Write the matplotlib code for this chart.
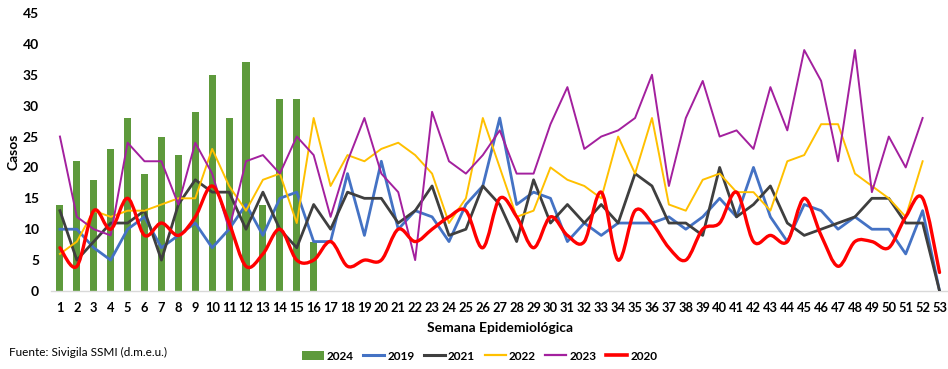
import matplotlib
matplotlib.use("Agg")
import matplotlib.pyplot as plt
from matplotlib.path import Path
from matplotlib.patches import PathPatch
from matplotlib.lines import Line2D
from matplotlib.patches import Patch
import numpy as np

plt.rcParams["font.family"] = ["Lato", "DejaVu Sans"]

weeks = list(range(1, 54))

cases_2024 = [14, 21, 18, 23, 28, 19, 25, 22, 29, 35, 28, 37, 14, 31, 31, 8]

cases_2019 = [10, 10, 7, 5, 10, 12, 7, 9, 11, 7, 10, 14, 9, 15, 16, 8, 8, 19, 9, 21,
              10, 13, 12, 8, 14, 17, 28, 14, 16, 15, 8, 11, 9, 11, 11, 11, 12, 10, 12, 15,
              12, 20, 12, 8, 14, 13, 10, 12, 10, 10, 6, 13, 0]
cases_2021 = [13, 5, 8, 11, 11, 13, 5, 14, 18, 16, 16, 10, 16, 10, 7, 14, 10, 16, 15, 15,
              11, 13, 17, 9, 10, 17, 14, 8, 18, 11, 14, 11, 14, 11, 19, 17, 11, 11, 9, 20,
              12, 14, 17, 11, 9, 10, 11, 12, 15, 15, 11, 11, 0]
cases_2022 = [6, 8, 13, 12, 13, 13, 14, 15, 15, 23, 17, 13, 18, 19, 11, 28, 17, 22, 21, 23,
              24, 22, 19, 11, 15, 28, 20, 12, 13, 20, 18, 17, 15, 25, 19, 28, 14, 13, 18, 19,
              16, 16, 13, 21, 22, 27, 27, 19, 17, 15, 12, 21]
cases_2023 = [25, 12, 10, 9, 24, 21, 21, 14, 24, 19, 10, 21, 22, 19, 25, 22, 12, 21, 28, 19,
              16, 5, 29, 21, 19, 22, 26, 19, 19, 27, 33, 23, 25, 26, 28, 35, 17, 28, 34, 25,
              26, 23, 33, 26, 39, 34, 21, 39, 16, 25, 20, 28]
cases_2020 = [7, 4, 13, 10, 15, 9, 11, 9, 12, 17, 11, 4, 6, 10, 5, 5, 8, 4, 5, 5,
              10, 8, 10, 12, 13, 7, 15, 12, 7, 12, 9, 8, 16, 5, 13, 11, 7, 5, 10, 11,
              16, 8, 9, 8, 15, 9, 4, 8, 8, 7, 12, 15, 3]

GREEN = "#5E9A3C"
BLUE = "#4472C4"
DARK = "#3F3F3F"
YELLOW = "#FFC000"
PURPLE = "#A3209E"
RED = "#FF0000"


def smooth_path(x, y):
    """Bezier path through the points, Catmull-Rom style tangents."""
    pts = np.column_stack([x, y]).astype(float)
    n = len(pts)
    verts = [pts[0]]
    codes = [Path.MOVETO]
    for i in range(n - 1):
        p0 = pts[max(i - 1, 0)]
        p1 = pts[i]
        p2 = pts[i + 1]
        p3 = pts[min(i + 2, n - 1)]
        c1 = p1 + (p2 - p0) / 6.0
        c2 = p2 - (p3 - p1) / 6.0
        verts += [c1, c2, p2]
        codes += [Path.CURVE4] * 3
    return Path(verts, codes)


fig = plt.figure(figsize=(9.48, 3.69), dpi=100)
ax = fig.add_axes([0.0543, 0.2114, 0.9457, 0.7534])

ax.bar(weeks[:len(cases_2024)], cases_2024, width=0.42, color=GREEN, zorder=1)
ax.plot(weeks[:len(cases_2019)], cases_2019, color=BLUE, lw=2.0, zorder=2)
ax.plot(weeks[:len(cases_2021)], cases_2021, color=DARK, lw=2.0, zorder=3)
ax.plot(weeks[:len(cases_2022)], cases_2022, color=YELLOW, lw=1.4, zorder=4)
ax.plot(weeks[:len(cases_2023)], cases_2023, color=PURPLE, lw=1.4, zorder=5)
ax.add_patch(PathPatch(smooth_path(weeks[:len(cases_2020)], cases_2020),
                       facecolor="none", edgecolor=RED, lw=2.4, zorder=6,
                       capstyle="round", joinstyle="round"))

ax.set_xlim(0.5, 53.5)
ax.set_ylim(0, 45)
ax.set_yticks(range(0, 46, 5))
ax.set_xticks(weeks)
ax.tick_params(length=0)
ax.tick_params(axis="x", labelsize=9.3, pad=8)
ax.tick_params(axis="y", labelsize=10, pad=9)
for lbl in ax.get_xticklabels() + ax.get_yticklabels():
    lbl.set_fontweight("bold")

for side in ["top", "right", "left"]:
    ax.spines[side].set_visible(False)
ax.spines["bottom"].set_color("#D9D9D9")
ax.spines["bottom"].set_linewidth(1.0)

ax.set_ylabel("Casos", fontsize=10, fontweight="bold", labelpad=2)
ax.set_xlabel("Semana Epidemiológica", fontsize=10, fontweight="bold", labelpad=6)

fig.text(0.01, 0.045, "Fuente: Sivigila SSMI (d.m.e.u.)", fontsize=8.5,
         va="center", ha="left")

handles = [
    Patch(facecolor=GREEN, label="2024"),
    Line2D([], [], color=BLUE, lw=2.2, label="2019"),
    Line2D([], [], color=DARK, lw=2.2, label="2021"),
    Line2D([], [], color=YELLOW, lw=1.6, label="2022"),
    Line2D([], [], color=PURPLE, lw=1.6, label="2023"),
    Line2D([], [], color=RED, lw=2.6, label="2020"),
]
fig.legend(handles=handles, loc="center", bbox_to_anchor=(0.506, 0.035), ncol=6,
           frameon=False, prop={"weight": "bold", "size": 8.5},
           handlelength=1.8, handleheight=0.7, columnspacing=0.8, handletextpad=0.25)

fig.savefig("out.png", dpi=100)
